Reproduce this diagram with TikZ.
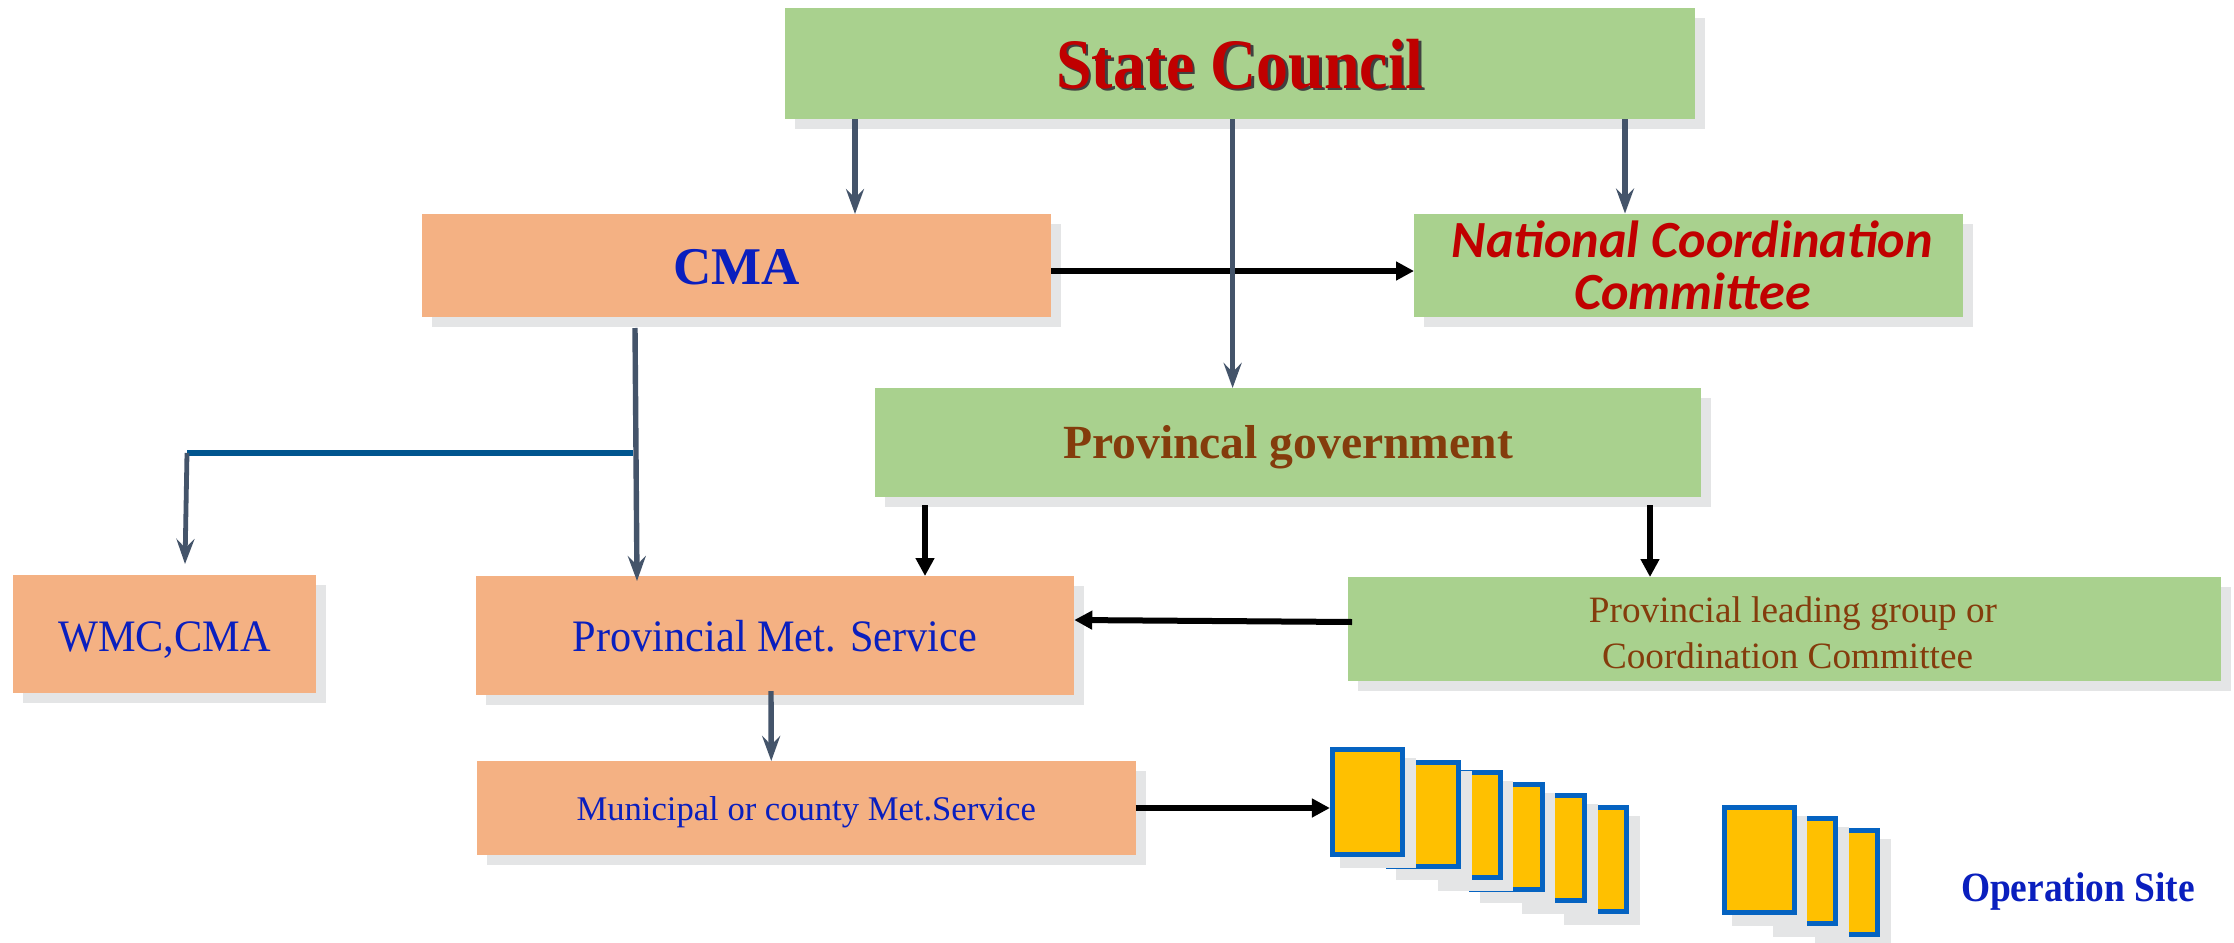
\documentclass[tikz,border=0pt]{standalone}
\usepackage{fontspec}
\setmainfont{Liberation Serif}
\newfontfamily\narrowserif[FakeStretch=0.9]{Liberation Serif}
\newfontfamily\opensideserif[FakeStretch=0.94]{Liberation Serif}
\newfontfamily\nccfont{Carlito}
\usetikzlibrary{arrows.meta,shadows,backgrounds}
\definecolor{boxgreen}{HTML}{A9D18E}
\definecolor{boxorange}{HTML}{F4B183}
\definecolor{shadowgrey}{HTML}{E4E5E6}
\definecolor{slateline}{HTML}{44546A}
\definecolor{branchblue}{HTML}{00558F}
\definecolor{textblue}{HTML}{0A1FBE}
\definecolor{textbrown}{HTML}{843C0C}
\definecolor{textred}{HTML}{C00000}
\definecolor{siteblue}{HTML}{0563C1}
\definecolor{sitegold}{HTML}{FFC000}
\newcommand\tallline[1]{\rule{0pt}{#1}}
\tikzset{
  softshadow/.style={drop shadow={shadow xshift=10pt,shadow yshift=-10pt,fill=shadowgrey,opacity=1}},
  panel/.style={rectangle,inner sep=0pt,outer sep=0pt,align=center,softshadow},
  greenpanel/.style={panel,fill=boxgreen},
  orangepanel/.style={panel,fill=boxorange},
  sitebox/.style={rectangle,inner sep=0pt,draw=siteblue,line width=5pt,fill=sitegold,minimum width=70.4pt,drop shadow={shadow xshift=10.4pt,shadow yshift=-11pt,fill=shadowgrey,draw=shadowgrey,line width=5pt,opacity=1}},
  slatearrow/.style={draw=slateline,line width=5.4pt,-{Stealth[length=25pt,width=18pt,inset=9pt]}},
  blackarrow/.style={draw=black,line width=6pt,-{Triangle[length=18pt,width=18pt]}},
  branchline/.style={draw=branchblue,line width=6pt}
}
\begin{document}
\begin{tikzpicture}[x=1pt,y=-1pt]
\useasboundingbox (0,0) rectangle (2234,942);
\fill[white] (0,0) rectangle (2234,942);
% boxes
\node[greenpanel,minimum width=910pt,minimum height=111pt,font=\narrowserif\bfseries\fontsize{71}{80}\selectfont,text=textred] (state) at (1240,63.5)
  {\tallline{53pt}\makebox[0pt][l]{\raisebox{-2.5pt}{\kern2.5pt\textcolor{black!75}{State Council}}}State Council};
\node[orangepanel,minimum width=629pt,minimum height=103pt,font=\bfseries\fontsize{53}{60}\selectfont,text=textblue] (cma) at (736.5,265.5) {\tallline{38pt}CMA};
\node[greenpanel,minimum width=549pt,minimum height=103pt,font=\nccfont\bfseries\itshape\fontsize{52.2}{52}\selectfont,text=textred] (ncc) at (1688.5,265) {\hspace*{8pt}National Coordination\\\hspace*{8pt}Committee};
\node[greenpanel,minimum width=826pt,minimum height=109pt,font=\bfseries\fontsize{47.6}{52}\selectfont,text=textbrown] (prov) at (1288,442.5) {\tallline{42.4pt}Provincal government};
\node[orangepanel,minimum width=303pt,minimum height=118pt,font=\opensideserif\fontsize{45}{50}\selectfont,text=textblue] (wmc) at (164.5,634) {\tallline{41.4pt}WMC,CMA};
\node[orangepanel,minimum width=598.5pt,minimum height=119pt,font=\opensideserif\fontsize{45}{50}\selectfont,text=textblue] (pms) at (775,635.5) {\tallline{33pt}Provincial Met. Service};
\node[greenpanel,minimum width=873pt,minimum height=104pt,font=\fontsize{37.2}{45.5}\selectfont,text=textbrown] (lead) at (1784.5,629) {\hspace*{17pt}\tallline{33pt}Provincial leading group or\\\hspace*{6pt}Coordination Committee};
\node[orangepanel,minimum width=658.5pt,minimum height=94pt,font=\fontsize{34.6}{38}\selectfont,text=textblue] (muni) at (806.25,808) {\tallline{31.5pt}Municipal or county Met.Service};
% site boxes, back to front
\node[sitebox,minimum height=104pt] (s6) at (1591.4,859.8) {};
\node[sitebox,minimum height=104.6pt] (s5) at (1549.5,848.1) {};
\node[sitebox,minimum height=104.2pt] (s4) at (1506.9,836.9) {};
\node[sitebox,minimum height=104.7pt] (s3) at (1465,825.15) {};
\node[sitebox,minimum height=103.4pt] (s2) at (1423.6,814.5) {};
\node[sitebox,minimum height=105pt] (s1) at (1367.6,802.3) {};
\node[sitebox,minimum height=104.1pt] (s9) at (1842.7,882.85) {};
\node[sitebox,minimum height=104.7pt] (s8) at (1800.7,871.15) {};
\node[sitebox,minimum height=104.4pt] (s7) at (1759.3,860) {};
\node[font=\narrowserif\bfseries\fontsize{41.6}{44}\selectfont,text=textblue] (site) at (2078,888) {\tallline{36.3pt}Operation Site};
% connector running behind the provincial box
\begin{pgfonlayer}{background}
\draw[draw=black,line width=4pt,-{Stealth[length=15pt,width=13pt,inset=5pt]}] ([xshift=-133.5pt]ncc.south) -- ([xshift=267pt,yshift=-10pt]prov.north);
\end{pgfonlayer}
% black connectors
\draw[blackarrow] ([yshift=-5.5pt]cma.east) -- ([yshift=-6pt]ncc.west);
\draw[blackarrow] ([xshift=-363pt,yshift=-8pt]prov.south) -- ([xshift=150pt]pms.north);
\draw[blackarrow] ([xshift=362pt,yshift=-8pt]prov.south) -- ([xshift=-134.5pt]lead.north);
\draw[blackarrow] ([yshift=7pt,xshift=4pt]lead.west) -- ([yshift=15.5pt]pms.east);
\draw[blackarrow] (muni.east) -- ([yshift=-5.7pt]s1.west);
% slate connectors
\draw[slatearrow] ([xshift=-385pt]state.south) -- ([xshift=118.5pt]cma.north);
\draw[slatearrow] ([xshift=-7.4pt]state.south) -- ([xshift=-55.4pt]prov.north);
\draw[slatearrow] ([xshift=385pt]state.south) -- ([xshift=-63.5pt]ncc.north);
\draw[slatearrow] ([xshift=-101.5pt,yshift=-11pt]cma.south) -- ([xshift=-138pt,yshift=-5pt]pms.north);
\draw[slatearrow] ([xshift=-4pt,yshift=4pt]pms.south) -- ([xshift=-35pt]muni.north);
% branch to WMC
\coordinate (branchleft) at (187,453);
\coordinate (branchright) at (633,453);
\draw[branchline] (branchleft) -- (branchright);
\draw[slatearrow,line width=4.8pt] (branchleft) -- ([xshift=20.5pt,yshift=11pt]wmc.north);
\end{tikzpicture}
\end{document}
